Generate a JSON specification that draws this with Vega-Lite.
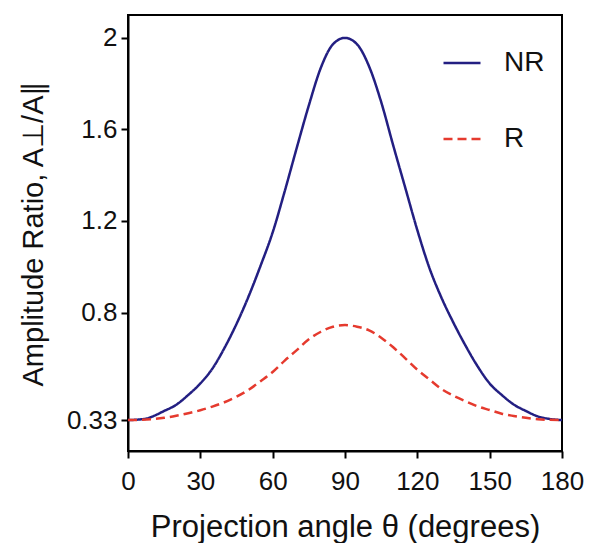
{
  "$schema": "https://vega.github.io/schema/vega-lite/v6.json",
  "width": 434,
  "height": 436,
  "autosize": {"type": "none"},
  "padding": {"left": 128, "top": 15, "right": 27, "bottom": 92},
  "background": "white",
  "config": {
    "font": "Liberation Sans",
    "view": {"stroke": "black", "strokeWidth": 2},
    "axis": {
      "domainColor": "black",
      "domainWidth": 2,
      "tickColor": "black",
      "tickWidth": 2,
      "tickSize": 7,
      "labelColor": "#111111",
      "titleColor": "#111111",
      "labelFont": "Liberation Sans",
      "titleFont": "Liberation Sans",
      "labelFontSize": 26,
      "titleFontWeight": "normal",
      "grid": false,
      "labelFlush": false,
      "labelOverlap": false
    }
  },
  "data": {
    "values": [
      {"theta": 0, "ratio": 0.33, "series": "NR"},
      {"theta": 5, "ratio": 0.333, "series": "NR"},
      {"theta": 8, "ratio": 0.337, "series": "NR"},
      {"theta": 10, "ratio": 0.345, "series": "NR"},
      {"theta": 15, "ratio": 0.37, "series": "NR"},
      {"theta": 20, "ratio": 0.397, "series": "NR"},
      {"theta": 25, "ratio": 0.44, "series": "NR"},
      {"theta": 30, "ratio": 0.49, "series": "NR"},
      {"theta": 35, "ratio": 0.555, "series": "NR"},
      {"theta": 40, "ratio": 0.645, "series": "NR"},
      {"theta": 45, "ratio": 0.75, "series": "NR"},
      {"theta": 50, "ratio": 0.87, "series": "NR"},
      {"theta": 55, "ratio": 1.005, "series": "NR"},
      {"theta": 60, "ratio": 1.15, "series": "NR"},
      {"theta": 65, "ratio": 1.33, "series": "NR"},
      {"theta": 70, "ratio": 1.52, "series": "NR"},
      {"theta": 75, "ratio": 1.705, "series": "NR"},
      {"theta": 80, "ratio": 1.87, "series": "NR"},
      {"theta": 85, "ratio": 1.972, "series": "NR"},
      {"theta": 90, "ratio": 2.0, "series": "NR"},
      {"theta": 95, "ratio": 1.972, "series": "NR"},
      {"theta": 100, "ratio": 1.875, "series": "NR"},
      {"theta": 105, "ratio": 1.72, "series": "NR"},
      {"theta": 110, "ratio": 1.53, "series": "NR"},
      {"theta": 115, "ratio": 1.345, "series": "NR"},
      {"theta": 120, "ratio": 1.16, "series": "NR"},
      {"theta": 125, "ratio": 0.995, "series": "NR"},
      {"theta": 130, "ratio": 0.865, "series": "NR"},
      {"theta": 135, "ratio": 0.755, "series": "NR"},
      {"theta": 140, "ratio": 0.655, "series": "NR"},
      {"theta": 145, "ratio": 0.565, "series": "NR"},
      {"theta": 150, "ratio": 0.49, "series": "NR"},
      {"theta": 155, "ratio": 0.44, "series": "NR"},
      {"theta": 160, "ratio": 0.398, "series": "NR"},
      {"theta": 165, "ratio": 0.37, "series": "NR"},
      {"theta": 170, "ratio": 0.346, "series": "NR"},
      {"theta": 175, "ratio": 0.335, "series": "NR"},
      {"theta": 180, "ratio": 0.33, "series": "NR"},
      {"theta": 0, "ratio": 0.33, "series": "R"},
      {"theta": 5, "ratio": 0.331, "series": "R"},
      {"theta": 10, "ratio": 0.334, "series": "R"},
      {"theta": 15, "ratio": 0.34, "series": "R"},
      {"theta": 20, "ratio": 0.349, "series": "R"},
      {"theta": 25, "ratio": 0.36, "series": "R"},
      {"theta": 30, "ratio": 0.373, "series": "R"},
      {"theta": 35, "ratio": 0.389, "series": "R"},
      {"theta": 40, "ratio": 0.408, "series": "R"},
      {"theta": 45, "ratio": 0.432, "series": "R"},
      {"theta": 50, "ratio": 0.462, "series": "R"},
      {"theta": 55, "ratio": 0.5, "series": "R"},
      {"theta": 60, "ratio": 0.54, "series": "R"},
      {"theta": 65, "ratio": 0.59, "series": "R"},
      {"theta": 70, "ratio": 0.636, "series": "R"},
      {"theta": 75, "ratio": 0.683, "series": "R"},
      {"theta": 80, "ratio": 0.716, "series": "R"},
      {"theta": 85, "ratio": 0.738, "series": "R"},
      {"theta": 90, "ratio": 0.745, "series": "R"},
      {"theta": 95, "ratio": 0.738, "series": "R"},
      {"theta": 100, "ratio": 0.722, "series": "R"},
      {"theta": 105, "ratio": 0.69, "series": "R"},
      {"theta": 110, "ratio": 0.648, "series": "R"},
      {"theta": 115, "ratio": 0.6, "series": "R"},
      {"theta": 120, "ratio": 0.55, "series": "R"},
      {"theta": 125, "ratio": 0.508, "series": "R"},
      {"theta": 130, "ratio": 0.466, "series": "R"},
      {"theta": 135, "ratio": 0.436, "series": "R"},
      {"theta": 140, "ratio": 0.412, "series": "R"},
      {"theta": 145, "ratio": 0.39, "series": "R"},
      {"theta": 150, "ratio": 0.374, "series": "R"},
      {"theta": 155, "ratio": 0.358, "series": "R"},
      {"theta": 160, "ratio": 0.348, "series": "R"},
      {"theta": 165, "ratio": 0.34, "series": "R"},
      {"theta": 170, "ratio": 0.334, "series": "R"},
      {"theta": 175, "ratio": 0.331, "series": "R"},
      {"theta": 180, "ratio": 0.33, "series": "R"}
    ]
  },
  "mark": {"type": "line", "interpolate": "monotone", "strokeWidth": 2.5},
  "encoding": {
    "x": {
      "field": "theta",
      "type": "quantitative",
      "scale": {"domain": [0, 180], "nice": false},
      "axis": {
        "values": [0, 30, 60, 90, 120, 150, 180],
        "title": "Projection angle θ (degrees)",
        "titleFontSize": 31,
        "labelPadding": 10,
        "titlePadding": 18
      }
    },
    "y": {
      "field": "ratio",
      "type": "quantitative",
      "scale": {"domain": [0.195, 2.1], "nice": false, "zero": false},
      "axis": {
        "values": [0.33, 0.8, 1.2, 1.6, 2],
        "format": "~g",
        "title": "Amplitude Ratio, A⊥/A∥",
        "titleFontSize": 29,
        "labelPadding": 4,
        "titlePadding": 18
      }
    },
    "color": {
      "field": "series",
      "type": "nominal",
      "scale": {"domain": ["NR", "R"], "range": ["#231f82", "#e53a2e"]},
      "legend": {
        "title": null,
        "orient": "none",
        "legendX": 314,
        "legendY": 28,
        "symbolType": "stroke",
        "symbolSize": 1369,
        "symbolStrokeWidth": 2.5,
        "labelFontSize": 28,
        "labelFont": "Liberation Sans",
        "labelColor": "#111111",
        "labelOffset": 22,
        "rowPadding": 42,
        "padding": 0
      }
    },
    "strokeDash": {
      "field": "series",
      "type": "nominal",
      "scale": {"domain": ["NR", "R"], "range": [[1, 0], [9, 5]]},
      "legend": {
        "title": null,
        "orient": "none",
        "legendX": 314,
        "legendY": 28,
        "symbolType": "stroke",
        "symbolSize": 1369,
        "symbolStrokeWidth": 2.5,
        "labelFontSize": 28,
        "labelFont": "Liberation Sans",
        "labelColor": "#111111",
        "labelOffset": 22,
        "rowPadding": 42,
        "padding": 0
      }
    }
  }
}
